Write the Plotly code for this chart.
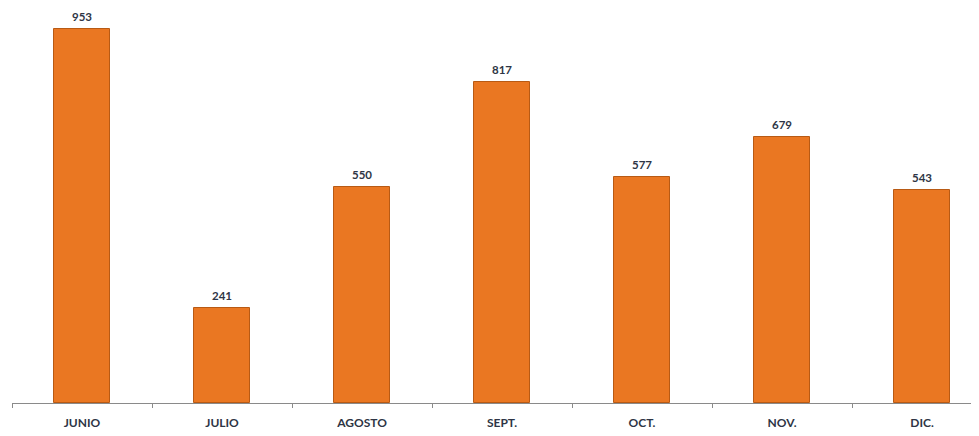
import plotly.graph_objects as go

months = ["JUNIO", "JULIO", "AGOSTO", "SEPT.", "OCT.", "NOV.", "DIC."]
values = [953, 241, 550, 817, 577, 679, 543]

fig = go.Figure(go.Bar(
    x=months, y=values,
    width=0.4,
    marker=dict(color="#EA7722", line=dict(color="#B85A14", width=1)),
    hoverinfo="x+y",
))

for m, v in zip(months, values):
    fig.add_annotation(
        x=m, y=v, text=str(v), showarrow=False,
        yanchor="bottom", yshift=5, borderpad=0,
        font=dict(family="Lato", size=11.5, color="#2E3545", weight="bold"),
    )

fig.update_layout(
    width=979, height=436,
    margin=dict(l=4, r=0, t=10, b=41, autoexpand=False),
    paper_bgcolor="white", plot_bgcolor="white",
    showlegend=False,
    bargap=0,
    xaxis=dict(
        type="category",
        range=[-0.5, 6.464],
        tickson="boundaries",
        ticks="outside", ticklen=4, tickcolor="#8A8A8A",
        showline=True, linecolor="#8A8A8A", linewidth=1,
        showgrid=False,
        ticklabelstandoff=9,
        tickfont=dict(family="Lato", size=12, color="#2E3545", weight="bold"),
    ),
    yaxis=dict(
        range=[0, 981], visible=False, showgrid=False, zeroline=False,
    ),
)

fig.write_html("out.html")
